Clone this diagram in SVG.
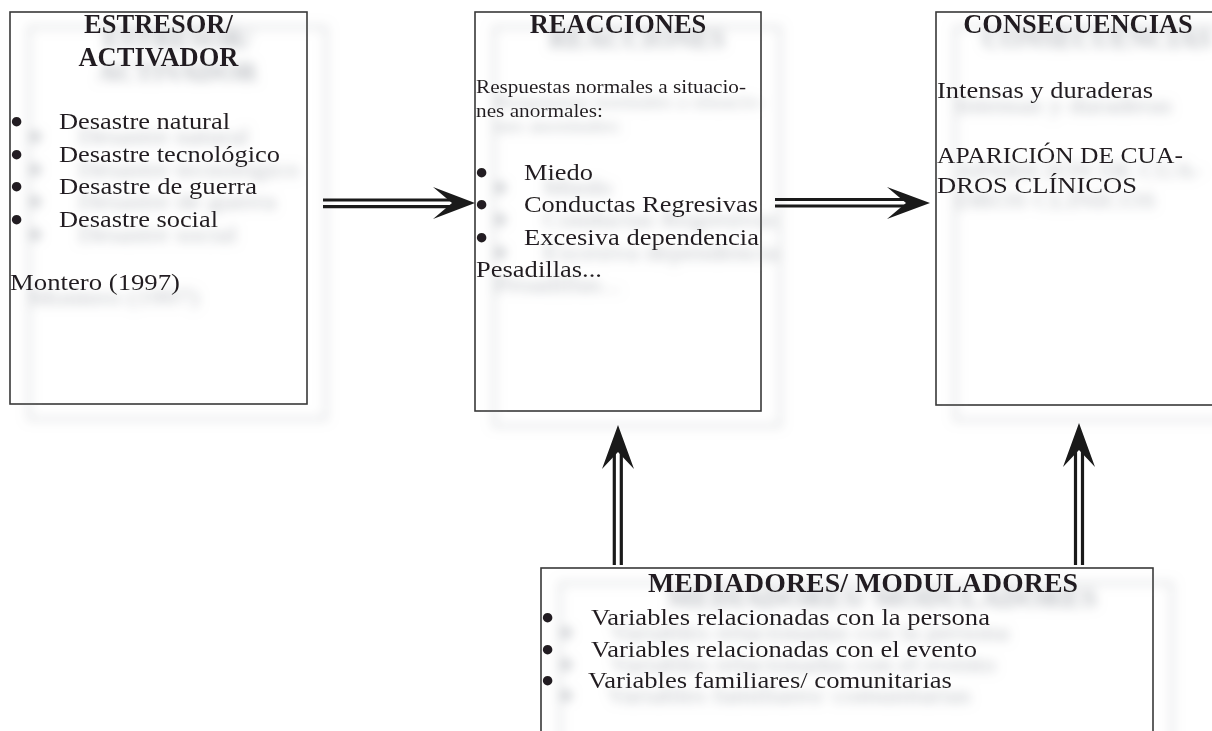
<svg xmlns="http://www.w3.org/2000/svg" width="1212" height="731" viewBox="0 0 1212 731">
<defs>
<filter id="ghost" filterUnits="userSpaceOnUse" x="-100" y="-100" width="1412" height="931">
<feOffset in="SourceAlpha" dx="19" dy="15" result="o"/>
<feGaussianBlur in="o" stdDeviation="5.5" result="b"/>
<feColorMatrix in="b" type="matrix" values="0 0 0 0 0.45  0 0 0 0 0.47  0 0 0 0 0.5  0 0 0 0.9 0" result="s"/>
<feMerge><feMergeNode in="s"/><feMergeNode in="SourceGraphic"/></feMerge>
</filter>
<style>
.box{fill:none;stroke:#3a3a3a;stroke-width:1.6}
.t{font-family:"Liberation Serif","Times New Roman",serif;fill:#231f20}
.h{font-size:26.5px;font-weight:bold;text-anchor:middle}
.b{font-size:24px}
.s{font-size:19px}
.bu{font-family:"DejaVu Sans",sans-serif;font-size:27px;font-weight:bold;fill:#231f20}
.shaft{stroke:#1a1a1a;stroke-width:3.2;fill:none}
.head{fill:#1a1a1a}
</style>
</defs>
<rect width="1212" height="731" fill="#fff"/>

<g id="estresor" filter="url(#ghost)">
<rect class="box" x="10" y="12" width="297" height="392"/>
<text class="t h" x="158.5" y="33">ESTRESOR/</text>
<text class="t h" x="158.5" y="66">ACTIVADOR</text>
<text class="bu" x="8" y="132">•</text>
<text class="t b" x="59" y="129" textLength="171" lengthAdjust="spacingAndGlyphs">Desastre natural</text>
<text class="bu" x="8" y="165">•</text>
<text class="t b" x="59" y="162" textLength="221" lengthAdjust="spacingAndGlyphs">Desastre tecnológico</text>
<text class="bu" x="8" y="197">•</text>
<text class="t b" x="59" y="194" textLength="198" lengthAdjust="spacingAndGlyphs">Desastre de guerra</text>
<text class="bu" x="8" y="230">•</text>
<text class="t b" x="59" y="227" textLength="159" lengthAdjust="spacingAndGlyphs">Desastre social</text>
<text class="t b" x="10" y="290" textLength="170" lengthAdjust="spacingAndGlyphs">Montero (1997)</text>
</g>

<g id="reacciones" filter="url(#ghost)">
<rect class="box" x="475" y="12" width="286" height="399"/>
<text class="t h" x="618" y="33">REACCIONES</text>
<text class="t s" x="476" y="93" textLength="270" lengthAdjust="spacingAndGlyphs">Respuestas normales a situacio-</text>
<text class="t s" x="476" y="117" textLength="127" lengthAdjust="spacingAndGlyphs">nes anormales:</text>
<text class="bu" x="473" y="183">•</text>
<text class="t b" x="524" y="180" textLength="69" lengthAdjust="spacingAndGlyphs">Miedo</text>
<text class="bu" x="473" y="215">•</text>
<text class="t b" x="524" y="212" textLength="234" lengthAdjust="spacingAndGlyphs">Conductas Regresivas</text>
<text class="bu" x="473" y="248">•</text>
<text class="t b" x="524" y="245" textLength="235" lengthAdjust="spacingAndGlyphs">Excesiva dependencia</text>
<text class="t b" x="476" y="277" textLength="126" lengthAdjust="spacingAndGlyphs">Pesadillas...</text>
</g>

<g id="consecuencias" filter="url(#ghost)">
<rect class="box" x="936" y="12" width="286" height="393"/>
<text class="t h" x="1078" y="33">CONSECUENCIAS</text>
<text class="t b" x="937" y="98" textLength="216" lengthAdjust="spacingAndGlyphs">Intensas y duraderas</text>
<text class="t b" x="937" y="163" textLength="246" lengthAdjust="spacingAndGlyphs">APARICIÓN DE CUA-</text>
<text class="t b" x="937" y="193" textLength="200" lengthAdjust="spacingAndGlyphs">DROS CLÍNICOS</text>
</g>

<g id="mediadores" filter="url(#ghost)">
<rect class="box" x="541" y="568" width="612" height="220"/>
<text class="t" x="648" y="592" style="font-size:26.5px;font-weight:bold" textLength="430" lengthAdjust="spacingAndGlyphs">MEDIADORES/ MODULADORES</text>
<text class="bu" x="539" y="628">•</text>
<text class="t b" x="591" y="625" textLength="399" lengthAdjust="spacingAndGlyphs">Variables relacionadas con la persona</text>
<text class="bu" x="539" y="660">•</text>
<text class="t b" x="591" y="657" textLength="386" lengthAdjust="spacingAndGlyphs">Variables relacionadas con el evento</text>
<text class="bu" x="539" y="691">•</text>
<text class="t b" x="588" y="688" textLength="364" lengthAdjust="spacingAndGlyphs">Variables familiares/ comunitarias</text>
</g>

<g id="connectors">
<line class="shaft" x1="323" y1="200" x2="456" y2="200"/>
<line class="shaft" x1="323" y1="206.7" x2="456" y2="206.7"/>
<polygon class="head" points="475,203 433,187 452,203 433,219"/>
<line class="shaft" x1="775" y1="199.5" x2="906" y2="199.5"/>
<line class="shaft" x1="775" y1="206" x2="906" y2="206"/>
<polygon class="head" points="930,203 887,187 906,203 887,219"/>
<line class="shaft" x1="614.3" y1="450" x2="614.3" y2="565"/>
<line class="shaft" x1="621.3" y1="450" x2="621.3" y2="565"/>
<polygon class="head" points="618,425 602,469 618,452 634,469"/>
<line class="shaft" x1="1075.5" y1="448" x2="1075.5" y2="565"/>
<line class="shaft" x1="1082.5" y1="448" x2="1082.5" y2="565"/>
<polygon class="head" points="1079,423 1063,467 1079,450 1095,467"/>
</g>
</svg>
